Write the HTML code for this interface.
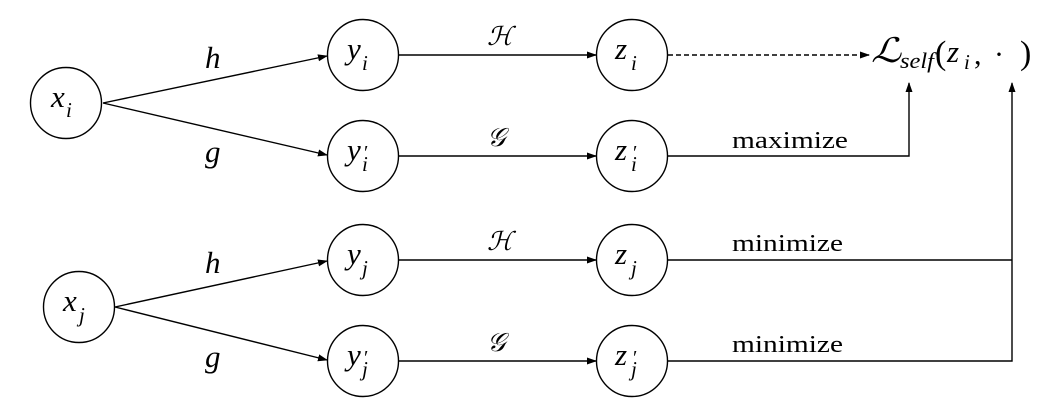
<!DOCTYPE html>
<html><head><meta charset="utf-8"><style>
html,body{margin:0;padding:0;background:#fff}
svg{display:block}
text{font-family:"Liberation Serif","DejaVu Serif",serif;fill:#000}
.m{font-style:italic;font-size:31px}
.s{font-style:italic;font-size:21px}
.p{font-size:20px}
.c{font-style:italic;font-size:26px}
.w{font-size:24px}
</style></head><body>
<svg width="1038" height="411" viewBox="0 0 1038 411">
<defs><marker id="a" markerWidth="10" markerHeight="8" refX="9" refY="4" orient="auto" markerUnits="userSpaceOnUse"><path d="M0,0.5 L10,4 L0,7.5 z" fill="#000"/></marker></defs>
<g fill="none" stroke="#000" stroke-width="1.4">
<circle cx="66" cy="103" r="35.5"/>
<circle cx="363" cy="55" r="35.5"/>
<circle cx="363" cy="156" r="35.5"/>
<circle cx="632" cy="55" r="35.5"/>
<circle cx="632" cy="156" r="35.5"/>
<circle cx="79" cy="307" r="35.5"/>
<circle cx="363" cy="260" r="35.5"/>
<circle cx="363" cy="361" r="35.5"/>
<circle cx="632" cy="260" r="35.5"/>
<circle cx="632" cy="361" r="35.5"/>
<line x1="103" y1="103" x2="327" y2="56" marker-end="url(#a)"/>
<line x1="103" y1="103" x2="327" y2="155" marker-end="url(#a)"/>
<line x1="115" y1="307" x2="327" y2="261" marker-end="url(#a)"/>
<line x1="115" y1="307" x2="327" y2="360" marker-end="url(#a)"/>
<line x1="399" y1="55" x2="596" y2="55" marker-end="url(#a)"/>
<line x1="399" y1="156" x2="596" y2="156" marker-end="url(#a)"/>
<line x1="399" y1="260" x2="596" y2="260" marker-end="url(#a)"/>
<line x1="399" y1="361" x2="596" y2="361" marker-end="url(#a)"/>
<line x1="668" y1="55" x2="869" y2="55" stroke-dasharray="5,3" marker-end="url(#a)"/>
<polyline points="668,156 909,156 909,83" marker-end="url(#a)"/>
<polyline points="668,260 1012,260"/>
<polyline points="668,361 1012,361 1012,83" marker-end="url(#a)"/>
</g>
<text class="m" x="51" y="107">x</text><text class="s" x="66" y="117">i</text>
<text class="m" x="347" y="59">y</text><text class="s" x="362" y="70">i</text>
<text class="m" x="347" y="160">y</text><text class="p" x="364" y="159">′</text><text class="s" x="362" y="171">i</text>
<text class="m" x="615" y="59">z</text><text class="s" x="631" y="70">i</text>
<text class="m" x="615" y="160">z</text><text class="p" x="633" y="159">′</text><text class="s" x="631" y="171">i</text>
<text class="m" x="63" y="311">x</text><text class="s" x="79" y="322">j</text>
<text class="m" x="347" y="264">y</text><text class="s" x="362" y="275">j</text>
<text class="m" x="347" y="365">y</text><text class="p" x="364" y="364">′</text><text class="s" x="362" y="376">j</text>
<text class="m" x="615" y="264">z</text><text class="s" x="631" y="275">j</text>
<text class="m" x="615" y="365">z</text><text class="p" x="633" y="364">′</text><text class="s" x="631" y="376">j</text>
<text class="m" x="205" y="68">h</text>
<text class="m" x="205" y="162">g</text>
<text class="m" x="205" y="273">h</text>
<text class="m" x="205" y="367">g</text>
<text class="c" x="487" y="45">ℋ</text>
<text class="c" x="487" y="146">𝒢</text>
<text class="c" x="487" y="250">ℋ</text>
<text class="c" x="487" y="351">𝒢</text>
<text class="w" x="732" y="148" textLength="116" lengthAdjust="spacingAndGlyphs">maximize</text>
<text class="w" x="732" y="251" textLength="111" lengthAdjust="spacingAndGlyphs">minimize</text>
<text class="w" x="732" y="352" textLength="111" lengthAdjust="spacingAndGlyphs">minimize</text>
<text x="871" y="62" style="font-style:italic;font-size:34px" textLength="30" lengthAdjust="spacingAndGlyphs">ℒ</text>
<text class="s" x="900" y="68" style="font-size:22px" textLength="34" lengthAdjust="spacingAndGlyphs">self</text>
<text x="935" y="64" style="font-size:34px">(</text>
<text class="m" x="947" y="62">z</text>
<text class="s" x="964" y="69">i</text>
<text x="974" y="64" style="font-size:30px">,</text>
<text x="994" y="64" style="font-size:30px">·</text>
<text x="1020" y="64" style="font-size:34px">)</text>
</svg>
</body></html>
